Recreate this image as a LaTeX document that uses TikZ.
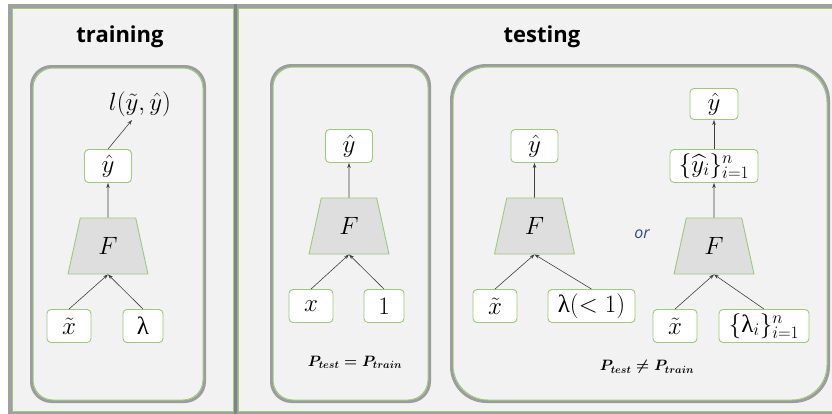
\RequirePackage{fix-cm}
\documentclass[tikz,border=0pt]{standalone}
\usepackage{fontspec}
\usepackage{amsmath}
\usepackage{tikz}
\usetikzlibrary{shapes.geometric,arrows.meta}
\newfontfamily\titlefont{Open Sans}
\newfontfamily\grk{Liberation Serif}
\definecolor{panelbg}{HTML}{F2F2F2}
\definecolor{leaf}{HTML}{9DC97C}
\definecolor{shade}{HTML}{787878}
\definecolor{netfill}{HTML}{DEDEDE}
\definecolor{orblue}{HTML}{2F4A7A}
\newcommand{\LAM}[0]{\mbox{\grk λ}}

\tikzset{
  panel/.style={fill=panelbg, draw=leaf, line width=1pt},
  panelshade/.style={draw=shade, line width=4pt, opacity=0.7},
  val/.style={draw=leaf, fill=white, rounded corners=4pt, line width=0.9pt,
    minimum width=44pt, minimum height=33pt, inner sep=2pt},
  net/.style={trapezium, trapezium stretches=true, trapezium left angle=76,
    trapezium right angle=76, draw=leaf, fill=netfill, line width=0.9pt,
    minimum width=80pt, minimum height=56pt, inner sep=0pt},
  link/.style={->, draw=black!75, line width=0.6pt},
  title/.style={font=\titlefont\bfseries\fontsize{22}{26}\selectfont},
  prob/.style={font=\fontsize{15}{18}\selectfont\boldmath},
}

\begin{document}
\begin{tikzpicture}[x=1pt, y=-1pt, font=\fontsize{25}{30}\selectfont,
  >={Stealth[length=5pt,width=3.5pt]}]

  \newcommand\RS{20pt}
  \newcommand\RL{35pt}

  \useasboundingbox (0,0) rectangle (832,413);
  \fill[white] (0,0) rectangle (832,413);

  %% outer panels
  \draw[panelshade] (10,6) rectangle (235,413);
  \draw[panelshade] (236,6) rectangle (840,413);
  \draw[panel] (12,8) rectangle (233,411);
  \draw[panel] (238,8) rectangle (838,411);

  %% inner boxes
  \draw[panelshade, line width=3pt, rounded corners=\RS] (31.5,66.5) rectangle (204.5,401.5);
  \draw[panel, rounded corners=\RS] (33,68) rectangle (203,400);
  \draw[panelshade, line width=3pt, rounded corners=\RS] (271.5,65.5) rectangle (429.5,401.5);
  \draw[panel, rounded corners=\RS] (273,67) rectangle (428,400);
  \draw[panelshade, line width=3pt, rounded corners=\RL] (451.5,65.5) rectangle (828.5,401.5);
  \draw[panel, rounded corners=\RL] (453,67) rectangle (827,400);

  \node[title] (traintitle) at (120,37) {training};
  \node[title] (testtitle) at (542,37) {testing};

  %% training
  \node[net] (trF) at (108,246) {$F$};
  \node[val, minimum width=47pt] (trY) at (108,166) {$\hat{y}$};
  \node (trLoss) at (140,104) {$l(\tilde{y},\hat{y})$};
  \node[val] (trX) at (69,326) {$\tilde{x}$};
  \node[val, minimum width=40pt] (trLam) at (143,326) {\grk λ};

  \draw[link] (trX.north) -- (trF.south);
  \draw[link] (trLam.north) -- (trF.south);
  \draw[link] (trF.north) -- (trY.south);
  \draw[link] (trY.north) -- ([xshift=-8pt]trLoss.south);

  %% testing, same distribution
  \node[net] (teF) at (349,226) {$F$};
  \node[val, minimum width=47pt] (teY) at (349,146) {$\hat{y}$};
  \node[val] (teX) at (311,306) {$x$};
  \node[val, minimum width=40pt] (teOne) at (384,306) {$1$};
  \node[prob] (teEq) at (355,362) {$P_{test}=P_{train}$};

  \draw[link] (teX.north) -- (teF.south);
  \draw[link] (teOne.north) -- (teF.south);
  \draw[link] (teF.north) -- (teY.south);

  %% testing, shifted distribution (single)
  \node[net] (shF) at (534.5,226) {$F$};
  \node[val, minimum width=47pt] (shY) at (534.5,146) {$\hat{y}$};
  \node[val] (shX) at (495,306) {$\tilde{x}$};
  \node[val, minimum width=87pt] (shLam) at (591.5,306) {\grk λ$(<1)$};

  \draw[link] (shX.north) -- (shF.south);
  \draw[link] (shLam.north) -- (shF.south);
  \draw[link] (shF.north) -- (shY.south);

  \node[font=\titlefont\itshape\fontsize{16}{19}\selectfont, text=orblue] (orword) at (642,234) {or};

  %% testing, shifted distribution (several)
  \node[val, minimum width=48pt, minimum height=31pt] (muY) at (714,104) {$\hat{y}$};
  \node[val, minimum width=88pt] (muYs) at (714,166) {$\{\widehat{y}_i\}_{i=1}^{n}$};
  \node[net] (muF) at (714,246) {$F$};
  \node[val] (muX) at (675,326) {$\tilde{x}$};
  \node[val, minimum width=90pt] (muLam) at (764,326) {$\{\LAM_i\}_{i=1}^{n}$};
  \node[prob] (shNeq) at (647,367) {$P_{test}\neq P_{train}$};

  \draw[link] (muX.north) -- (muF.south);
  \draw[link] (muLam.north) -- (muF.south);
  \draw[link] (muF.north) -- (muYs.south);
  \draw[link] (muYs.north) -- (muY.south);

\end{tikzpicture}
\end{document}
